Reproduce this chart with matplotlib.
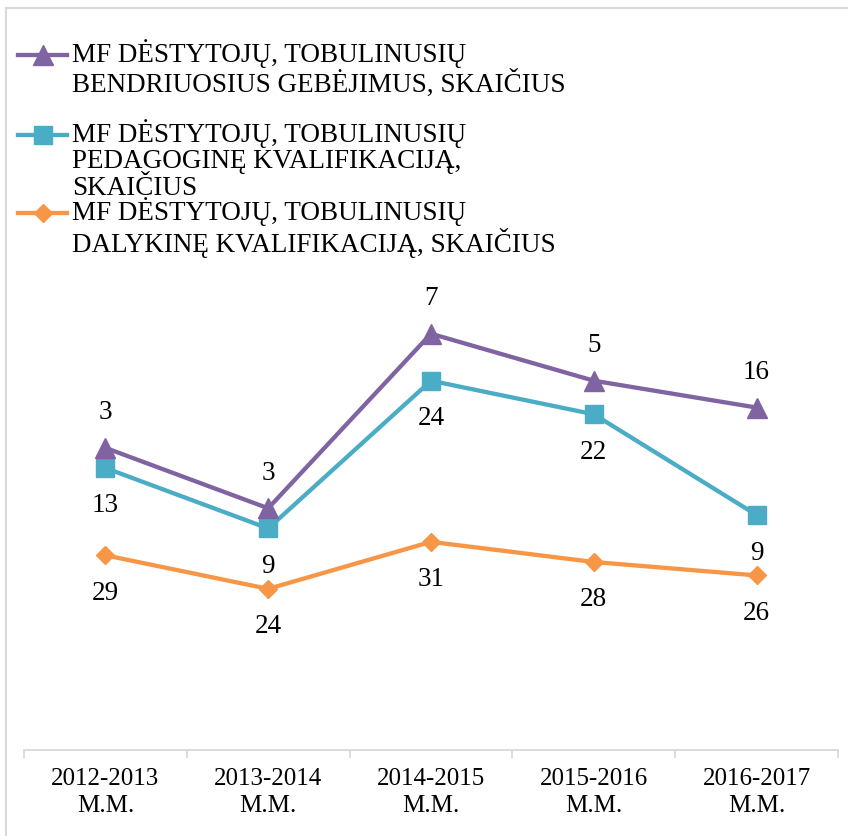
import matplotlib
matplotlib.use('Agg')
import matplotlib.pyplot as plt
from matplotlib.lines import Line2D

# Data
years = ['2012-2013\nM.M.', '2013-2014\nM.M.', '2014-2015\nM.M.', '2015-2016\nM.M.', '2016-2017\nM.M.']
dalykine = [29, 24, 31, 28, 26]
pedagogine = [13, 9, 24, 22, 9]
bendrieji = [3, 3, 7, 5, 16]

labels = ['MF DĖSTYTOJŲ, TOBULINUSIŲ\nBENDRIUOSIUS GEBĖJIMUS, SKAIČIUS',
          'MF DĖSTYTOJŲ, TOBULINUSIŲ\nPEDAGOGINĘ KVALIFIKACIJĄ,\nSKAIČIUS',
          'MF DĖSTYTOJŲ, TOBULINUSIŲ\nDALYKINĘ KVALIFIKACIJĄ, SKAIČIUS']

purple = '#8064A2'
blue = '#4BACC6'
orange = '#F79646'
grey = '#d9d9d9'

plt.rcParams['font.family'] = ['Liberation Serif', 'DejaVu Serif']

W, H = 848, 836
fig = plt.figure(figsize=(W / 100, H / 100), dpi=100)
ax = fig.add_axes([24 / W, 1 - 750 / H, (838 - 24) / W, (750 - 280) / H])

x = list(range(len(years)))
# stacked line chart
cum_orange = dalykine
cum_blue = [a + b for a, b in zip(dalykine, pedagogine)]
cum_purple = [a + b for a, b in zip(cum_blue, bendrieji)]

ax.plot(x, cum_orange, color=orange, lw=3.1, marker='D', ms=9.5, zorder=3)
ax.plot(x, cum_blue, color=blue, lw=3.1, marker='s', ms=13, zorder=4)
ax.plot(x, cum_purple, color=purple, lw=3.1, marker='^', ms=14, zorder=5)

for i in x:
    ax.annotate(str(bendrieji[i]), (i, cum_purple[i]), xytext=(0, 35), textcoords='offset pixels',
                ha='center', va='center', fontsize=19.5)
    ax.annotate(str(pedagogine[i]), (i, cum_blue[i]), xytext=(0, -38), textcoords='offset pixels',
                ha='center', va='center', fontsize=19.5)
    ax.annotate(str(dalykine[i]), (i, cum_orange[i]), xytext=(0, -38), textcoords='offset pixels',
                ha='center', va='center', fontsize=19.5)

ax.set_xlim(-0.5, len(years) - 0.5)
ax.set_ylim(0, 70)
ax.set_yticks([])
for s in ['top', 'right', 'left']:
    ax.spines[s].set_visible(False)
ax.spines['bottom'].set_color(grey)
ax.spines['bottom'].set_linewidth(1.3)

ax.set_xticks(x)
ax.set_xticklabels(years, fontsize=18, linespacing=1.3)
ax.tick_params(axis='x', which='major', length=0, pad=13)
ax.set_xticks([i - 0.5 for i in range(len(years) + 1)], minor=True)
ax.tick_params(axis='x', which='minor', length=6, color=grey, width=1.3)

# legend drawn at top, as in the source chart
def fx(px):
    return px / W

def fy(py):
    return 1 - py / H

handles = [(purple, '^', 14, 55), (blue, 's', 13, 135), (orange, 'D', 9.5, 213)]
for (c, m, ms, yy), lab in zip(handles, labels):
    fig.add_artist(Line2D([fx(18), fx(67)], [fy(yy), fy(yy)], color=c, lw=3.1,
                          transform=fig.transFigure))
    fig.add_artist(Line2D([fx(42.5)], [fy(yy)], color=c, marker=m, ms=ms,
                          transform=fig.transFigure))
    fig.text(fx(72), fy(yy - 16), lab, fontsize=19.5, va='top', ha='left', linespacing=1.08)

# chart border
fig.add_artist(Line2D([fx(6), fx(6)], [0, fy(8)], color=grey, lw=1.5, transform=fig.transFigure))
fig.add_artist(Line2D([fx(6), 1], [fy(8), fy(8)], color=grey, lw=1.5, transform=fig.transFigure))

fig.savefig('out.png', dpi=100)
